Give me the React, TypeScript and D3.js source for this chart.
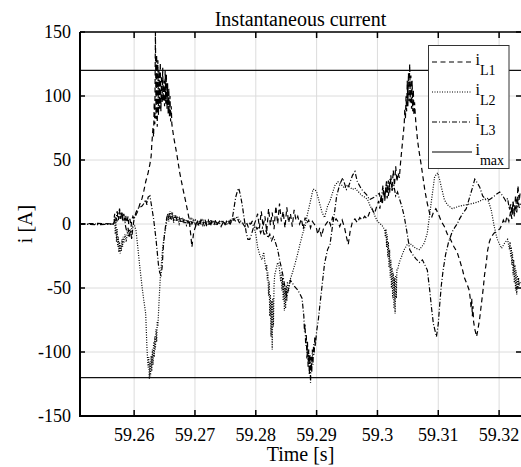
import React from "react";
import * as d3 from "d3";

// figure size and plot box (MATLAB style)
const W = 521;
const H = 467;
const left = 80;
const right = 521;
const top = 32;
const bottom = 416;

const xDomain: [number, number] = [59.2511, 59.3236];
const yDomain: [number, number] = [-150, 150];
const xTicks = [59.26, 59.27, 59.28, 59.29, 59.3, 59.31, 59.32];
const xTickLabels = ["59.26", "59.27", "59.28", "59.29", "59.3", "59.31", "59.32"];
const yTicks = [-150, -100, -50, 0, 50, 100, 150];
const iMax = 120;

// phase L1 (dashed)
const iL1: [number, number][] = [
  [59.2511, 0], [59.254, 0.5], [59.2563, 0], [59.2567, 1],
  [59.257, 6], [59.2572, 2], [59.2573, 9], [59.2575, 4], [59.2576, 10], [59.2578, 5],
  [59.258, 9], [59.2581, 3], [59.2583, 8], [59.2585, 2], [59.2586, 7], [59.2588, 1],
  [59.259, 6], [59.2591, 0], [59.2593, 4], [59.2595, -2], [59.2596, 3], [59.2598, 6],
  [59.26, 4], [59.2603, 7], [59.2606, 10], [59.2609, 15], [59.2613, 20], [59.2616, 26],
  [59.2619, 33], [59.2623, 40], [59.2626, 47], [59.2628, 53], [59.2629, 62], [59.2631, 75],
  [59.2632, 68], [59.2633, 95], [59.2634, 78], [59.2635, 150], [59.2636, 82], [59.2637, 132],
  [59.2638, 76], [59.2639, 128], [59.264, 85], [59.2641, 120], [59.2642, 90], [59.2643, 126],
  [59.2644, 88], [59.2645, 116], [59.2646, 95], [59.2647, 122], [59.2648, 96], [59.2649, 112],
  [59.265, 92], [59.2651, 120], [59.2652, 94], [59.2653, 117], [59.2654, 90], [59.2655, 110],
  [59.2656, 86], [59.2657, 106], [59.2658, 84], [59.2659, 100], [59.266, 80], [59.2661, 92],
  [59.2662, 78], [59.2665, 68], [59.267, 55], [59.2675, 40], [59.268, 28], [59.2685, 17],
  [59.269, 5], [59.2693, -8], [59.2695, -18], [59.2698, -6], [59.2701, -2],
  [59.2704, 2], [59.2707, -2], [59.271, 3], [59.2713, -1], [59.2716, 4], [59.2719, 0],
  [59.2722, 3], [59.2725, -2], [59.2728, 2], [59.2731, -1], [59.2734, 3], [59.2737, 0],
  [59.274, 2], [59.2743, -2], [59.2746, 1], [59.2749, -1], [59.2752, 2], [59.2755, 0],
  [59.2758, 3], [59.2761, 1], [59.2764, 4], [59.2767, 2], [59.277, 4], [59.2773, 1],
  [59.2776, 2], [59.2779, 0], [59.2782, -2], [59.2785, 1], [59.2788, -3], [59.2791, 0],
  [59.2794, 2], [59.2797, -1], [59.28, 3],
  [59.2803, 8], [59.2806, -3], [59.2809, 10], [59.2812, -2], [59.2815, 6], [59.2818, -6],
  [59.2821, 12], [59.2824, -1], [59.2827, 9], [59.283, -4], [59.2833, 14], [59.2836, 0],
  [59.2839, 16], [59.2842, 2], [59.2845, 10], [59.2848, -3], [59.2851, 13], [59.2854, 1],
  [59.2857, 8], [59.286, -2], [59.2863, 11], [59.2866, 3], [59.2869, 6], [59.2872, 0],
  [59.2875, 4], [59.2878, -4], [59.2881, 5], [59.2884, 1], [59.2887, 3], [59.289, -3],
  [59.2893, 2], [59.2896, 0], [59.2899, -2], [59.2902, -8], [59.2905, -3], [59.2908, -10],
  [59.2911, -4], [59.2914, -1], [59.2917, 1], [59.292, 3], [59.2923, -1], [59.2926, 5],
  [59.2929, 2], [59.2932, 4],
  [59.2935, 2], [59.2938, -2], [59.2942, 3], [59.2946, -3], [59.2949, -10], [59.2952, -16],
  [59.2955, -6], [59.2959, 2], [59.2963, 4], [59.2967, 1], [59.2971, 5], [59.2975, 3],
  [59.2979, 6], [59.2983, 4], [59.2987, 9], [59.2991, 12], [59.2995, 8], [59.2999, 14],
  [59.3002, 18], [59.3004, 12],
  [59.3006, 22], [59.3008, 15], [59.301, 27], [59.3012, 18], [59.3014, 30], [59.3016, 20],
  [59.3018, 34], [59.302, 24], [59.3022, 38], [59.3024, 27], [59.3026, 42], [59.3028, 30],
  [59.303, 45], [59.3032, 33], [59.3034, 40], [59.3036, 36], [59.3038, 48], [59.304, 58],
  [59.3042, 68], [59.3044, 78],
  [59.3045, 90], [59.3046, 82], [59.3047, 100], [59.3048, 88], [59.3049, 112], [59.305, 92],
  [59.3051, 118], [59.3052, 96], [59.3053, 125], [59.3054, 95], [59.3055, 116], [59.3056, 90],
  [59.3057, 112], [59.3058, 88], [59.3059, 105], [59.306, 85], [59.3061, 95],
  [59.3063, 80], [59.3066, 65], [59.3069, 55], [59.3072, 46], [59.3075, 36], [59.3078, 26],
  [59.3082, 16], [59.3086, 8], [59.3089, 5], [59.3092, 9], [59.3096, 12], [59.31, 8],
  [59.3105, 2], [59.311, -2], [59.3115, -8], [59.312, -12], [59.3126, -18], [59.3131, -22],
  [59.3135, -28], [59.314, -36], [59.3143, -42], [59.3148, -48], [59.3151, -52], [59.3153, -60],
  [59.3154, -66], [59.3155, -58], [59.3156, -72], [59.3157, -64], [59.3158, -76], [59.316, -82],
  [59.3163, -88], [59.3166, -80], [59.3168, -74], [59.3171, -62], [59.3174, -50], [59.3176, -40],
  [59.3179, -30], [59.3181, -21], [59.3184, -14], [59.3187, -10], [59.3192, -7], [59.3197, -5],
  [59.3201, -4], [59.3204, -1], [59.3207, 3], [59.321, 0], [59.3213, 6], [59.3216, 2],
  [59.3219, 10], [59.3221, 4], [59.3223, 16], [59.3225, 8], [59.3227, 22], [59.3229, 12],
  [59.3231, 30], [59.3233, 18], [59.3235, 26],
];

// phase L2 (dotted)
const iL2: [number, number][] = [
  [59.2511, 0], [59.254, 0], [59.2566, 0],
  [59.2568, 4], [59.2569, -8], [59.257, 2], [59.2571, -14], [59.2572, -4], [59.2573, -18],
  [59.2574, -10], [59.2575, -22], [59.2576, -14], [59.2577, -23], [59.2578, -16], [59.2579, -21],
  [59.258, -12], [59.2581, -18], [59.2582, -10], [59.2583, -15], [59.2585, -8], [59.2587, -14],
  [59.2589, -6], [59.2591, -10], [59.2593, -4], [59.2595, -7], [59.2597, -1], [59.26, 0],
  [59.2603, -5], [59.2606, -18], [59.2609, -32], [59.2613, -49], [59.2616, -60], [59.2619, -70],
  [59.2621, -96],
  [59.2622, -105], [59.2623, -112], [59.2624, -104], [59.2625, -121], [59.2626, -108], [59.2627, -119],
  [59.2628, -103], [59.2629, -115], [59.263, -98], [59.2631, -110], [59.2632, -92], [59.2633, -104],
  [59.2634, -88], [59.2635, -98], [59.2636, -82], [59.2637, -92], [59.2638, -76], [59.2639, -80],
  [59.2641, -60], [59.2643, -42], [59.2645, -30], [59.2647, -18], [59.265, -8], [59.2653, 0],
  [59.2655, 8], [59.2657, 2], [59.2659, 10], [59.2661, 3], [59.2663, 9], [59.2665, 1],
  [59.2667, 7], [59.2669, 2], [59.2671, 6], [59.2674, 0], [59.2677, 5], [59.268, 1],
  [59.2683, 4], [59.2686, -1], [59.2689, 3], [59.2692, 0], [59.2695, 4], [59.2698, 1],
  [59.2701, 3], [59.2704, -1], [59.2707, 2], [59.271, 0], [59.2713, 3], [59.2716, -1],
  [59.2719, 2], [59.2722, 0], [59.2725, 3], [59.2728, 1], [59.2731, 2], [59.2734, -1],
  [59.2737, 1], [59.274, 0], [59.2743, 2], [59.2746, 0], [59.2749, 1], [59.2752, -1],
  [59.2755, 2], [59.2758, 1], [59.2761, 3], [59.2764, 5], [59.2767, 4], [59.277, 6],
  [59.2773, 3], [59.2776, 2], [59.2779, 0], [59.2782, 1], [59.2785, -1], [59.2788, 0],
  [59.2791, 1], [59.2794, 0], [59.2797, -2],
  [59.28, -8], [59.2803, -18], [59.2807, -25], [59.281, -28], [59.2813, -22], [59.2815, -30],
  [59.2817, -36], [59.2818, -32], [59.2819, -44], [59.282, -38], [59.2821, -56], [59.2822, -45],
  [59.2823, -72], [59.2824, -55], [59.2825, -88], [59.2826, -60], [59.2827, -98], [59.2828, -58],
  [59.2829, -80], [59.283, -48], [59.2831, -40], [59.2833, -36], [59.2836, -30], [59.2838, -32],
  [59.284, -40],
  [59.2841, -45], [59.2842, -38], [59.2843, -52], [59.2844, -42], [59.2845, -60], [59.2846, -46],
  [59.2847, -68], [59.2848, -50], [59.2849, -66], [59.285, -48], [59.2851, -60], [59.2852, -45],
  [59.2854, -52], [59.2856, -44], [59.2859, -40], [59.2864, -32], [59.2869, -23], [59.2873, -15],
  [59.2878, -6], [59.2881, -2], [59.2885, 8], [59.2889, 16], [59.2894, 27], [59.2897, 27],
  [59.29, 25], [59.2905, 16], [59.2909, 9], [59.2913, 5], [59.2918, 14], [59.2922, 18],
  [59.2926, 24], [59.293, 30], [59.2935, 33], [59.294, 31], [59.2946, 28], [59.295, 30],
  [59.2954, 29], [59.2959, 27], [59.2963, 28], [59.2967, 26], [59.2971, 24], [59.2975, 22],
  [59.2979, 21], [59.2984, 19], [59.2988, 14], [59.2992, 11], [59.2996, 6], [59.3, 2],
  [59.3005, 0], [59.3009, -2], [59.3012, -5],
  [59.3013, -10], [59.3014, -4], [59.3015, -18], [59.3016, -8], [59.3017, -26], [59.3018, -14],
  [59.3019, -34], [59.302, -20], [59.3021, -42], [59.3022, -28], [59.3023, -50], [59.3024, -34],
  [59.3025, -58], [59.3026, -38], [59.3027, -66], [59.3028, -42], [59.3029, -70], [59.303, -40],
  [59.3031, -58], [59.3032, -36], [59.3033, -36], [59.3036, -30], [59.304, -25], [59.3044, -20],
  [59.3049, -16], [59.3053, -15], [59.3058, -17], [59.3063, -19], [59.3069, -20], [59.3074, -17],
  [59.3077, -15], [59.3082, -7], [59.3086, 8], [59.3089, 19], [59.3094, 37], [59.3099, 40],
  [59.3102, 35], [59.3105, 29], [59.311, 19], [59.3115, 15], [59.3123, 12], [59.3135, 14],
  [59.3146, 15], [59.3156, 16], [59.3164, 17], [59.3173, 19], [59.3181, 20], [59.3187, 11],
  [59.3192, -2], [59.3197, -12], [59.3204, -19], [59.3209, -15], [59.3214, -12], [59.3217, -20],
  [59.3218, -14], [59.3219, -26], [59.322, -18], [59.3221, -32], [59.3222, -22], [59.3223, -40],
  [59.3224, -28], [59.3225, -46], [59.3226, -32], [59.3227, -52], [59.3228, -36], [59.3229, -55],
  [59.323, -40], [59.3231, -50], [59.3232, -42], [59.3233, -48], [59.3235, -45],
];

// phase L3 (dash-dot)
const iL3: [number, number][] = [
  [59.2511, 0], [59.254, -0.5], [59.2566, 0],
  [59.2568, 8], [59.257, 2], [59.2572, 10], [59.2574, 3], [59.2576, 12], [59.2578, 4],
  [59.258, 9], [59.2582, 2], [59.2584, 5], [59.2586, -2], [59.2588, -6], [59.259, -3],
  [59.2592, -10], [59.2594, -5], [59.2596, -12], [59.2598, -2], [59.26, 4], [59.2603, 9],
  [59.2606, 12], [59.2609, 13], [59.2613, 14], [59.2616, 16], [59.2619, 19], [59.2621, 15],
  [59.2623, 21], [59.2626, 22], [59.2628, 16], [59.263, 10], [59.2632, 4], [59.2634, -4],
  [59.2636, -12], [59.2638, -22], [59.264, -32], [59.2642, -38], [59.2644, -40], [59.2646, -34],
  [59.2648, -18], [59.265, -8], [59.2652, 0], [59.2654, 6], [59.2656, 3], [59.2658, 9],
  [59.266, 4], [59.2662, 8],
  [59.2665, 3], [59.2668, 7], [59.2671, 2], [59.2674, 5], [59.2677, 1], [59.268, 4],
  [59.2683, 0], [59.2686, 3], [59.2689, 1], [59.2692, 4], [59.2695, 0], [59.2698, 3],
  [59.2701, -1], [59.2704, 2], [59.2707, 0], [59.271, 3], [59.2713, 1], [59.2716, 2],
  [59.2719, -1], [59.2722, 2], [59.2725, 0], [59.2728, 3], [59.2731, 1], [59.2734, 2],
  [59.2737, 0], [59.274, 2], [59.2743, 1], [59.2746, 2], [59.2749, 0], [59.2752, 2],
  [59.2755, 1], [59.2758, 0], [59.2761, 3], [59.2764, 12], [59.2767, 21], [59.277, 26],
  [59.2772, 28], [59.2775, 22], [59.2778, 14], [59.2781, 4], [59.2784, -6], [59.2787, -12],
  [59.279, -12], [59.2793, -8], [59.2796, -3], [59.2799, -1], [59.2802, -4], [59.2805, -2],
  [59.2808, -7], [59.2811, -3], [59.2814, -9], [59.2817, -5], [59.282, -11], [59.2823, -8],
  [59.2826, -13], [59.2829, -10], [59.2832, -14], [59.2836, -20], [59.284, -30], [59.2843, -36],
  [59.2846, -44], [59.2849, -52], [59.2851, -57], [59.2854, -50], [59.2857, -44], [59.286, -46],
  [59.2864, -49], [59.2868, -51], [59.2872, -54], [59.2876, -58],
  [59.2879, -72], [59.288, -84], [59.2881, -78], [59.2882, -95], [59.2883, -86], [59.2884, -105],
  [59.2885, -92], [59.2886, -112], [59.2887, -98], [59.2888, -118], [59.2889, -102], [59.289, -124],
  [59.2891, -104], [59.2892, -116], [59.2893, -98], [59.2894, -110], [59.2895, -94], [59.2896, -102],
  [59.2897, -88], [59.2898, -95], [59.29, -84], [59.2903, -74], [59.2905, -65], [59.2909, -48],
  [59.2913, -31], [59.2918, -20], [59.2922, -16], [59.2926, -2], [59.293, 11], [59.2933, 22],
  [59.2938, 31], [59.2943, 36], [59.2947, 30], [59.2949, 27], [59.2953, 30], [59.2959, 38],
  [59.2963, 41], [59.2967, 33], [59.2974, 27], [59.2982, 23], [59.2987, 19], [59.2995, 21],
  [59.3003, 24],
  [59.3006, 18], [59.3009, 30], [59.3012, 20], [59.3015, 34], [59.3018, 22], [59.3021, 36],
  [59.3024, 26], [59.3027, 30], [59.303, 22], [59.3033, 25], [59.3036, 20], [59.304, 14],
  [59.3044, 6], [59.3048, -5], [59.3053, -20], [59.3058, -24], [59.3063, -27], [59.3069, -30],
  [59.3074, -28], [59.3079, -33], [59.3082, -36], [59.3086, -52], [59.3089, -66], [59.3092, -78],
  [59.3097, -88], [59.31, -78], [59.3102, -65], [59.3105, -48], [59.3108, -36], [59.3112, -24],
  [59.3117, -14], [59.3123, -6], [59.3128, -2], [59.3131, 0], [59.3135, 4], [59.314, 8],
  [59.3146, 12], [59.3151, 20], [59.3156, 28], [59.316, 35], [59.3163, 33], [59.3168, 29],
  [59.3173, 22], [59.3178, 19], [59.3184, 19], [59.319, 21], [59.3195, 23], [59.3201, 25],
  [59.3206, 22], [59.3211, 18], [59.3214, 20], [59.3217, 11], [59.3219, 16], [59.3221, 8],
  [59.3223, 18], [59.3225, 6], [59.3227, 14], [59.3229, 9], [59.3231, 20], [59.3233, 12],
  [59.3235, 16],
];

const series = [
  { name: "L1", data: iL1, dash: "5,3.5" },
  { name: "L2", data: iL2, dash: "1,1.5" },
  { name: "L3", data: iL3, dash: "5,2,1,2" },
];

const legendItems = [
  { sub: "L1", dash: "5,3.5" },
  { sub: "L2", dash: "1,1.5" },
  { sub: "L3", dash: "5,2,1,2" },
  { sub: "max", dash: null },
];

const serif = "Liberation Serif, DejaVu Serif, Times New Roman, Times, serif";
const txt = { fontFamily: serif };

export default function App() {
  const x = d3.scaleLinear().domain(xDomain).range([left, right]);
  const y = d3.scaleLinear().domain(yDomain).range([bottom, top]);
  const line = d3
    .line<[number, number]>()
    .x((d) => x(d[0]))
    .y((d) => y(d[1]));

  return (
    <svg
      width={W}
      height={H}
      style={{ position: "absolute", left: 0, top: 0, background: "#fff", fontFamily: serif }}
    >
      <defs>
        <clipPath id="plot">
          <rect x={left} y={top} width={right - left} height={bottom - top} />
        </clipPath>
      </defs>
      <rect x={0} y={0} width={W} height={H} fill="#fff" />

      {/* grid */}
      <g stroke="#dcdcdc" strokeWidth={1}>
        {xTicks.map((t) => (
          <line key={t} x1={x(t)} x2={x(t)} y1={top} y2={bottom} />
        ))}
        {yTicks.map((t) => (
          <line key={t} x1={left} x2={right} y1={y(t)} y2={y(t)} />
        ))}
      </g>

      <g clipPath="url(#plot)">
        {/* current limit */}
        {[iMax, -iMax].map((v) => (
          <line key={v} x1={left} x2={right} y1={y(v)} y2={y(v)} stroke="#111" strokeWidth={1.2} />
        ))}
        {series.map((s) => (
          <path
            key={s.name}
            d={line(s.data) || ""}
            fill="none"
            stroke="#000"
            strokeWidth={1.2}
            strokeDasharray={s.dash}
          />
        ))}
      </g>

      {/* axes box */}
      <g stroke="#000" fill="none">
        <line x1={left} x2={right} y1={top} y2={top} strokeWidth={1.5} />
        <line x1={left} x2={left} y1={top} y2={bottom + 1} strokeWidth={2} />
        <line x1={left - 1} x2={right} y1={bottom} y2={bottom} strokeWidth={2} />
        {xTicks.map((t) => (
          <g key={t} strokeWidth={1.5}>
            <line x1={x(t)} x2={x(t)} y1={top} y2={top + 6} />
            <line x1={x(t)} x2={x(t)} y1={bottom} y2={bottom - 6} />
          </g>
        ))}
        {yTicks.map((t) => (
          <g key={t} strokeWidth={1.5}>
            <line x1={left} x2={left + 5} y1={y(t)} y2={y(t)} />
            <line x1={right} x2={right - 5} y1={y(t)} y2={y(t)} />
          </g>
        ))}
      </g>

      {/* tick labels */}
      <g fontSize={18} fill="#000">
        {xTicks.map((t, i) => (
          <text key={t} x={x(t)} y={bottom + 25} textAnchor="middle" style={txt}>
            {xTickLabels[i]}
          </text>
        ))}
        {yTicks.map((t) => (
          <text key={t} x={left - 9} y={y(t) + 6} textAnchor="end" style={txt}>
            {t}
          </text>
        ))}
      </g>

      {/* titles */}
      <text x={(left + right) / 2} y={26} textAnchor="middle" fontSize={20} style={txt}>
        Instantaneous current
      </text>
      <text x={(left + right) / 2} y={461} textAnchor="middle" fontSize={20} style={txt}>
        Time [s]
      </text>
      <text
        transform={`translate(32, ${(top + bottom) / 2}) rotate(-90)`}
        textAnchor="middle"
        fontSize={20}
        style={txt}
      >
        i [A]
      </text>

      {/* legend */}
      <g>
        <rect x={428.5} y={45.5} width={80.5} height={123} fill="#fff" stroke="#333" strokeWidth={1} />
        {legendItems.map((it, i) => {
          const ly = 62 + i * 30;
          return (
            <g key={it.sub}>
              <line
                x1={432}
                x2={472}
                y1={ly}
                y2={ly}
                stroke="#000"
                strokeWidth={1.2}
                strokeDasharray={it.dash || undefined}
              />
              <text x={475.5} y={ly + 3} fontSize={16} style={txt}>
                i
                <tspan fontSize={14} dy={10}>
                  {it.sub}
                </tspan>
              </text>
            </g>
          );
        })}
      </g>
    </svg>
  );
}
